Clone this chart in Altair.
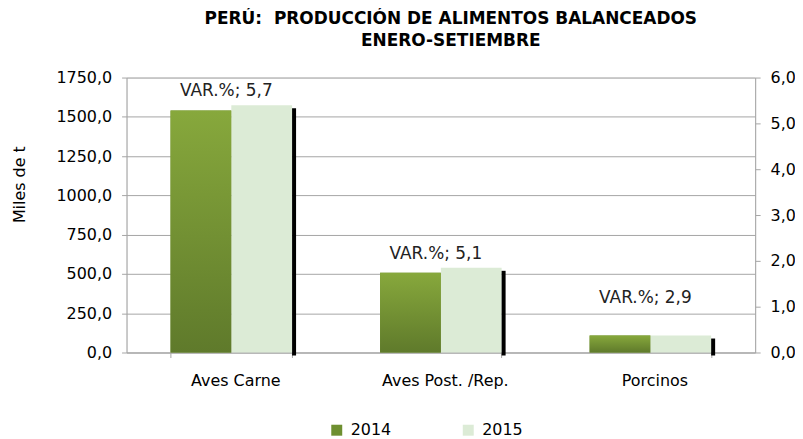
import altair as alt
import pandas as pd

# ---------------- data ----------------
categories = ["Aves Carne", "Aves Post. /Rep.", "Porcinos"]
years = ["2014", "2015"]
values_2014 = [1541, 507, 108]
values_2015 = [1573, 539, 108]
var_pct = [5.7, 5.1, 2.9]
var_label_at = [1664, 628, 344]          # where each VAR.% label sits (left-axis units)
left_ticks = [0, 250, 500, 750, 1000, 1250, 1500, 1750]
right_ticks = [0, 1, 2, 3, 4, 5, 6]
title_lines = ["PERÚ:\u00a0 PRODUCCIÓN DE ALIMENTOS BALANCEADOS", "ENERO-SETIEMBRE"]

# ---------------- tables ----------------
rows = []
for c, a, b in zip(categories, values_2014, values_2015):
    rows.append({"cat": c, "year": years[0], "value": a})
    rows.append({"cat": c, "year": years[1], "value": b})
bars_df = pd.DataFrame(rows)

lab_df = pd.DataFrame({
    "cat": categories,
    "value": var_label_at,
    "var": var_pct,
    "label": ["VAR.%; " + f"{v:.1f}".replace(".", ",") for v in var_pct],
})

FONT = "DejaVu Sans"
GRAY = "#a6a6a6"
fmt = "replace(format(datum.value, '.1f'), '.', ',')"

x_enc = alt.X(
    "cat:N", sort=categories,
    scale=alt.Scale(paddingInner=0.42, paddingOuter=0.21),
    axis=alt.Axis(title=None, labelAngle=0, tickBand="extent", tickSize=5,
                  tickColor=GRAY, domainColor=GRAY, labelFontSize=16,
                  labelColor="black", labelPadding=15, labelOffset=4,
                  labelFont=FONT),
)
xo_enc = alt.XOffset("year:N", sort=years,
                     scale=alt.Scale(paddingInner=0, paddingOuter=0))
y_enc = alt.Y(
    "value:Q",
    scale=alt.Scale(domain=[0, 1750], nice=False),
    axis=alt.Axis(values=left_ticks, labelExpr=fmt, tickSize=5, labelPadding=10,
                  tickColor=GRAY, domainColor=GRAY, gridColor=GRAY, grid=True,
                  labelFontSize=16, labelColor="black", labelFont=FONT,
                  title="Miles de t", titleFontSize=16, titleFontWeight="normal",
                  titleColor="black", titleFont=FONT, titleAngle=270,
                  titleAlign="center", titleBaseline="middle",
                  titleX=-107, titleY=107),
)

bars = alt.Chart(bars_df).mark_bar().encode(
    x=x_enc, xOffset=xo_enc, y=y_enc,
    color=alt.Color(
        "year:N", sort=years,
        scale=alt.Scale(domain=years, range=["#6e8f30", "#dcebd6"]),
        legend=alt.Legend(title=None, orient="none", legendX=203, legendY=346,
                          direction="horizontal", symbolType="square",
                          symbolSize=121, symbolStrokeWidth=0, symbolOpacity=1,
                          labelFontSize=16, labelFont=FONT, labelColor="black",
                          columnPadding=69, labelOffset=6),
    ),
)

grad = alt.Gradient(
    gradient="linear",
    stops=[alt.GradientStop(color="#87a83c", offset=0),
           alt.GradientStop(color="#5f7a2b", offset=1)],
    x1=0, x2=0, y1=0, y2=1,
)
bars14 = alt.Chart(bars_df).transform_filter(
    alt.datum.year == years[0]
).mark_bar(color=grad).encode(x=x_enc, xOffset=xo_enc, y=y_enc)

shadow = alt.Chart(bars_df).transform_filter(
    alt.datum.year == years[1]
).mark_bar(color="black", width=4, xOffset=63, yOffset=3).encode(x=x_enc, y=y_enc)

labels = alt.Chart(lab_df).mark_text(
    fontSize=17, font=FONT, baseline="middle", dx=-5, color="#222222"
).encode(x=x_enc, y=y_enc, text="label:N")

left = alt.layer(bars, bars14, shadow, labels)

right = alt.Chart(lab_df).mark_point(opacity=0).encode(
    x=x_enc,
    y=alt.Y("var:Q", scale=alt.Scale(domain=[0, 6], nice=False),
            axis=alt.Axis(orient="right", values=right_ticks, labelExpr=fmt,
                          tickSize=5, labelPadding=10, tickColor=GRAY,
                          domainColor=GRAY, grid=False, labelFontSize=16,
                          labelColor="black", labelFont=FONT, title=None)),
)

chart = alt.layer(left, right).resolve_scale(y="independent").properties(
    width=631, height=276,
    autosize=alt.AutoSizeParams(type="none"),
    padding={"left": 119, "top": 69, "right": 40, "bottom": 86},
    title=alt.Title(title_lines, font=FONT, fontSize=17, fontWeight="bold",
                    color="black", anchor="middle", dx=10, offset=20,
                    lineHeight=22),
).configure_view(strokeWidth=0).configure(font=FONT)

chart.save("out.html", embed_options={"renderer": "svg", "actions": False})
